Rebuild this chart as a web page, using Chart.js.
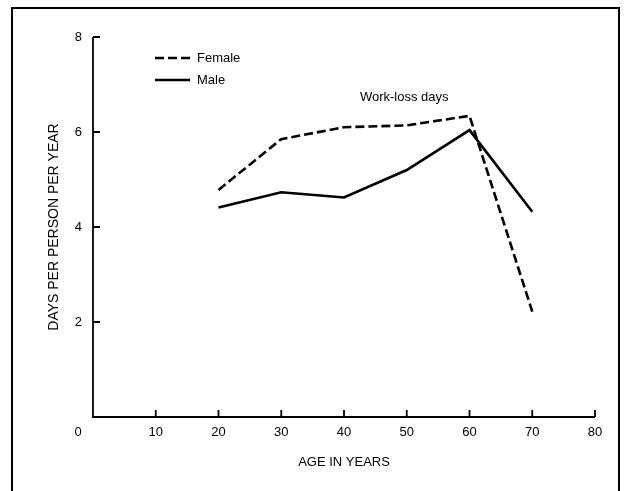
<!DOCTYPE html>
<html>
<head>
<meta charset="utf-8">
<script src="https://cdn.jsdelivr.net/npm/chart.js@4.4.1/dist/chart.umd.min.js"></script>
<style>
  html, body { margin: 0; padding: 0; background: #fff; }
  #box { width: 625px; height: 491px; }
</style>
</head>
<body>
<div id="box"><canvas id="grafica" width="625" height="491"></canvas></div>
<script>
// Edades (eje x) y días perdidos por persona y año
const edades = [20, 30, 40, 50, 60, 70];
const mujeres = [4.78, 5.85, 6.1, 6.14, 6.34, 2.22];
const hombres = [4.41, 4.73, 4.62, 5.2, 6.04, 4.32];

const ticksX = [0, 10, 20, 30, 40, 50, 60, 70, 80];
const ticksY = [2, 4, 6, 8];

const fuente = "'Liberation Sans', Arial, sans-serif";

// Marco, marcas hacia dentro, leyenda y rótulo
const extras = {
    id: 'extras',
    beforeDraw(chart) {
        const c = chart.ctx;
        c.save();
        c.fillStyle = '#fff';
        c.fillRect(0, 0, chart.width, chart.height);
        c.strokeStyle = '#000';
        c.lineWidth = 2;
        c.beginPath();
        c.moveTo(12, 495);
        c.lineTo(12, 8);
        c.lineTo(619, 8);
        c.lineTo(619, 495);
        c.stroke();
        c.restore();
    },
    afterDraw(chart) {
        const c = chart.ctx;
        const x = chart.scales.x, y = chart.scales.y;
        const x0 = x.getPixelForValue(0), y0 = y.getPixelForValue(0);
        c.save();
        c.strokeStyle = '#000';
        c.lineWidth = 1.8;
        // ejes
        c.beginPath();
        c.moveTo(x0, y.getPixelForValue(8));
        c.lineTo(x0, y0);
        c.lineTo(x.getPixelForValue(80), y0);
        c.stroke();
        // marcas
        c.beginPath();
        ticksX.slice(1).forEach(v => {
            const px = x.getPixelForValue(v);
            c.moveTo(px, y0);
            c.lineTo(px, y0 - 7);
        });
        ticksY.forEach(v => {
            const py = y.getPixelForValue(v);
            c.moveTo(x0, py);
            c.lineTo(x0 + 7, py);
        });
        c.stroke();

        c.font = '13px ' + fuente;
        c.fillStyle = '#000';
        c.textBaseline = 'middle';
        c.textAlign = 'center';
        // el 0 del eje x va a la izquierda del eje
        c.fillText('0', x0 - 15, y0 + 15);

        // leyenda
        c.textAlign = 'left';
        chart.data.datasets.forEach((ds, i) => {
            const ly = 58 + i * 22;
            c.lineWidth = 2.5;
            c.setLineDash(ds.borderDash || []);
            c.beginPath();
            c.moveTo(155, ly);
            c.lineTo(190, ly);
            c.stroke();
            c.setLineDash([]);
            c.fillText(ds.label, 197, ly);
        });

        // rótulo
        c.textAlign = 'center';
        c.fillText('Work-loss days', x.getPixelForValue(49.6), y.getPixelForValue(6.72));
        c.restore();
    }
};

const datos = {
    datasets: [
        {
            label: 'Female',
            data: edades.map((e, i) => ({ x: e, y: mujeres[i] })),
            borderColor: '#000',
            borderWidth: 2.6,
            borderDash: [9, 4],
            pointRadius: 0,
            tension: 0
        },
        {
            label: 'Male',
            data: edades.map((e, i) => ({ x: e, y: hombres[i] })),
            borderColor: '#000',
            borderWidth: 2.6,
            pointRadius: 0,
            tension: 0
        }
    ]
};

const opciones = {
    responsive: false,
    animation: false,
    layout: { padding: { left: 20, right: 30, top: 37, bottom: 0 } },
    plugins: { legend: { display: false }, tooltip: { enabled: false } },
    scales: {
        x: {
            type: 'linear',
            min: 0, max: 80,
            afterBuildTicks: s => { s.ticks = ticksX.map(v => ({ value: v })); },
            grid: { display: false },
            border: { display: false },
            ticks: {
                color: '#000',
                font: { family: fuente, size: 13 },
                padding: 0,
                maxRotation: 0,
                callback: v => (v === 0 ? '' : v)
            },
            title: {
                display: true,
                text: 'AGE IN YEARS',
                color: '#000',
                font: { family: fuente, size: 13 },
                padding: { top: 4, bottom: 21 }
            },
            afterFit: s => { s.height = 491 - 417; }
        },
        y: {
            min: 0, max: 8,
            afterBuildTicks: s => { s.ticks = ticksY.map(v => ({ value: v })); },
            grid: { display: false },
            border: { display: false },
            ticks: {
                color: '#000',
                font: { family: fuente, size: 13 },
                padding: 3
            },
            title: {
                display: true,
                text: 'DAYS PER PERSON PER YEAR',
                color: '#000',
                font: { family: fuente, size: 14 },
                padding: { top: 26, bottom: 4 }
            },
            afterFit: s => { s.width = 93 - 20; }
        }
    }
};

new Chart(document.getElementById('grafica'), {
    type: 'line',
    data: datos,
    options: opciones,
    plugins: [extras]
});
</script>
</body>
</html>
